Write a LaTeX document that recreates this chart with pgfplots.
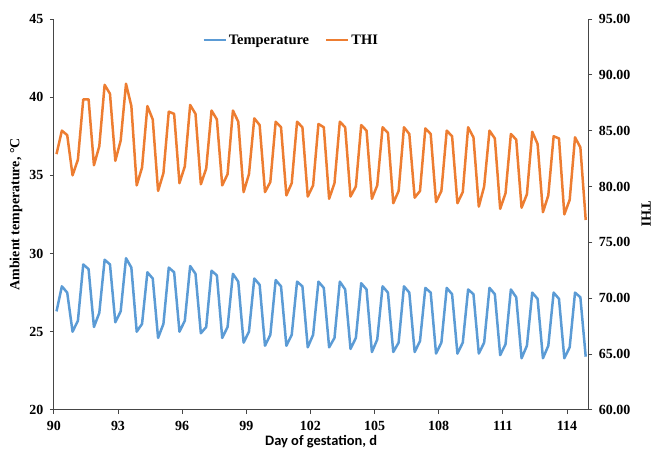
\documentclass[border=0pt]{standalone}
\usepackage{pgfplots}
\pgfplotsset{compat=1.18}
\usepackage{pgfplotstable}
\usepackage{fontspec}
\setmainfont{Liberation Serif}
\newfontfamily\carlito{Carlito}
\definecolor{tempblue}{RGB}{91,155,213}
\definecolor{thiorange}{RGB}{237,125,49}
\definecolor{axisgray}{RGB}{70,70,70}

% four readings a day, day 90 to 114
\pgfplotstableread{
day temp thi
90.125 26.3 82.9
90.375 27.9 85.0
90.625 27.5 84.6
90.875 25.0 81.0
91.125 25.7 82.4
91.375 29.3 87.8
91.625 29.0 87.8
91.875 25.3 81.9
92.125 26.2 83.6
92.375 29.6 89.1
92.625 29.3 88.3
92.875 25.6 82.3
93.125 26.3 84.1
93.375 29.7 89.2
93.625 29.1 87.2
93.875 25.0 80.1
94.125 25.5 81.7
94.375 28.8 87.2
94.625 28.4 86.0
94.875 24.6 79.6
95.125 25.5 81.2
95.375 29.1 86.7
95.625 28.8 86.5
95.875 25.0 80.3
96.125 25.7 81.8
96.375 29.2 87.3
96.625 28.7 86.5
96.875 24.9 80.2
97.125 25.3 81.6
97.375 28.9 86.8
97.625 28.6 86.0
97.875 24.6 80.1
98.125 25.3 81.1
98.375 28.7 86.8
98.625 28.2 85.8
98.875 24.3 79.5
99.125 25.0 81.1
99.375 28.4 86.1
99.625 28.0 85.5
99.875 24.1 79.5
100.125 24.8 80.4
100.375 28.3 85.8
100.625 27.9 85.3
100.875 24.1 79.2
101.125 24.8 80.3
101.375 28.2 85.8
101.625 27.9 85.3
101.875 24.0 79.1
102.125 24.8 80.1
102.375 28.2 85.6
102.625 27.8 85.3
102.875 24.0 78.9
103.125 24.6 80.3
103.375 28.2 85.8
103.625 27.7 85.3
103.875 23.9 79.1
104.125 24.6 80.0
104.375 28.1 85.5
104.625 27.7 85.0
104.875 23.7 78.9
105.125 24.5 80.1
105.375 27.9 85.3
105.625 27.5 84.8
105.875 23.7 78.5
106.125 24.3 79.6
106.375 27.9 85.3
106.625 27.5 84.7
106.875 23.7 79.0
107.125 24.4 79.6
107.375 27.8 85.2
107.625 27.5 84.7
107.875 23.6 78.6
108.125 24.3 79.6
108.375 27.8 85.0
108.625 27.4 84.5
108.875 23.6 78.5
109.125 24.3 79.5
109.375 27.7 85.3
109.625 27.4 84.4
109.875 23.6 78.2
110.125 24.3 80.0
110.375 27.8 85.0
110.625 27.4 84.3
110.875 23.5 78.0
111.125 24.2 79.4
111.375 27.7 84.7
111.625 27.2 84.2
111.875 23.3 78.1
112.125 24.1 79.3
112.375 27.5 84.9
112.625 27.1 83.8
112.875 23.3 77.7
113.125 24.1 79.2
113.375 27.5 84.5
113.625 27.1 84.3
113.875 23.3 77.5
114.125 24.0 78.8
114.375 27.5 84.4
114.625 27.2 83.5
114.875 23.4 77.0
}\gestation

\pgfplotsset{
  base/.style={
    width=536pt, height=392pt, scale only axis,
    xmin=90, xmax=115, xtick={90,93,...,114},
    tick align=outside, major tick length=4pt, minor tick num=0,
    axis line style={axisgray, line width=0.8pt},
    every tick/.style={axisgray, line width=0.8pt},
    ticklabel style={font=\bfseries\fontsize{14}{16}\selectfont},
    xticklabel={\pgfmathprintnumber{\tick}},
    yticklabel={\pgfmathprintnumber{\tick}},
    xticklabel style={yshift=-4pt},
    /pgf/number format/assume math mode=true,
  },
  serieslabel/.style={line width=2.5pt, line join=round},
}

\begin{document}
\begin{tikzpicture}
\begin{axis}[base,
    axis y line*=left, axis x line*=bottom,
    ymin=20, ymax=45, ytick={20,25,...,45},
    yticklabel style={xshift=-3pt},
    ylabel={Ambient temperature, °C},
    ylabel style={at={(axis description cs:-0.071,0.5)}, anchor=center,
      font=\bfseries\fontsize{14}{16}\selectfont},
    xlabel={Day of gestation, d},
    xlabel style={at={(axis description cs:0.5,-0.080)}, anchor=center,
      font=\carlito\bfseries\fontsize{14.5}{16}\selectfont},
  ]
  \addplot[tempblue, serieslabel] table[x=day, y=temp]{\gestation};
\end{axis}
\begin{axis}[base,
    axis y line*=right, axis x line=none,
    ymin=60, ymax=95, ytick={60,65,...,95},
    yticklabel style={xshift=3pt, /pgf/number format/.cd, fixed, fixed zerofill, precision=2},
    ylabel={THI},
    ylabel style={at={(axis description cs:1.108,0.5)}, anchor=center, rotate=180,
      font=\bfseries\fontsize{14}{16}\selectfont},
    legend style={at={(axis description cs:0.444,0.946)}, anchor=center,
      draw=none, fill=none, legend columns=2,
      font=\bfseries\fontsize{14.5}{16}\selectfont,
      /tikz/every even column/.append style={column sep=14pt}},
    legend image code/.code={\draw[#1] (0pt,0pt) -- (22pt,0pt);},
  ]
  \addlegendimage{tempblue, serieslabel}
  \addlegendentry{Temperature}
  \addplot[thiorange, serieslabel] table[x=day, y=thi]{\gestation};
  \addlegendentry{THI}
\end{axis}
\path (current axis.south west) ++(-54pt,-49pt) rectangle ++(654pt,460pt);
\end{tikzpicture}
\end{document}
